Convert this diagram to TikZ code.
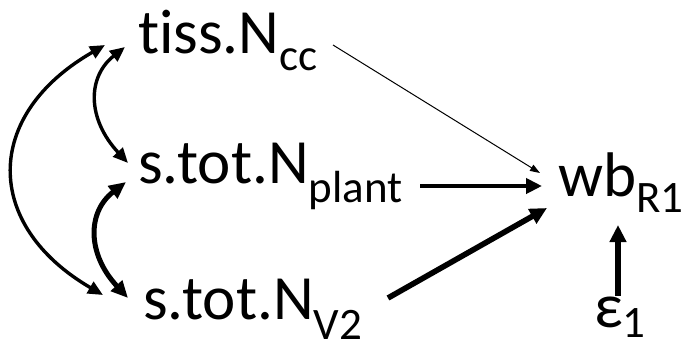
\documentclass[tikz,border=0pt]{standalone}
\usepackage{fontspec}
\setmainfont{Carlito}[Ligatures=NoCommon]
\usetikzlibrary{arrows.meta}
% lowered subscript in the smaller label size
\newcommand{\lowsub}[2][18pt]{\raisebox{-#1}{\fontsize{45}{45}\selectfont #2}}
\tikzset{
  lbl/.style={anchor=base west, inner sep=0pt, font=\fontsize{63}{65}\selectfont},
  thinarrow/.style={line width=1pt, -{Triangle[length=10pt,width=7pt]}},
  boldarrow/.style={line width=4.6pt, -{Triangle[length=16pt,width=15pt]}},
  heavyarrow/.style={line width=5.6pt, -{Triangle[length=17pt,width=16pt]}},
  covarrow/.style={line width=3.4pt, {Triangle[length=15pt,width=13pt]}-{Triangle[length=15pt,width=13pt]}},
  covheavy/.style={line width=5pt, {Triangle[length=17pt,width=15pt]}-{Triangle[length=17pt,width=15pt]}},
}
\begin{document}
\begin{tikzpicture}[x=1pt,y=1pt]
\useasboundingbox (0,0) rectangle (686,-349);

% variables
\node[lbl] (tiss)  at (138,-53)  {tiss.N\lowsub[17pt]{cc}};
\node[lbl] (plant) at (138,-183) {s.tot.N\lowsub[19pt]{plant}};
\node[lbl] (v2)    at (143,-319) {s.tot.N\lowsub[20pt]{V2}};
\node[lbl] (wb)    at (558,-196) {wb\lowsub[16pt]{R1}};
\node[lbl] (eps)   at (594,-327) {ε\lowsub[10pt]{1}};

% arrow end points beside the labels
\coordinate (tissA)  at ([shift={(-33,8)}]tiss.base west);
\coordinate (tissB)  at ([shift={(-13,6)}]tiss.base west);
\coordinate (plantA) at ([shift={(-10,20)}]plant.base west);
\coordinate (plantB) at ([shift={(-12,1)}]plant.base west);
\coordinate (v2A)    at ([shift={(-40,24)}]v2.base west);
\coordinate (v2B)    at ([shift={(-15,21)}]v2.base west);

% covariances
\draw[covarrow] (v2A) .. controls (-17,-225) and (-17,-115) .. (tissA);
\draw[covarrow] (plantA) .. controls (87,-119) and (87,-77) .. (tissB);
\draw[covheavy] (v2B) .. controls (87,-254) and (87,-212) .. (plantB);

% regressions on wb
\draw[thinarrow]  ([shift={(195,8)}]tiss.base west)   -- ([shift={(-18,23)}]wb.base west);
\draw[boldarrow]  ([shift={(282,-3)}]plant.base west) -- ([shift={(-16,10)}]wb.base west);
\draw[heavyarrow] ([shift={(245,21)}]v2.base west)    -- ([shift={(-11,-12)}]wb.base west);
\draw[heavyarrow] ([shift={(24,31)}]eps.base west)    -- ([shift={(60,-29)}]wb.base west);
\end{tikzpicture}
\end{document}
